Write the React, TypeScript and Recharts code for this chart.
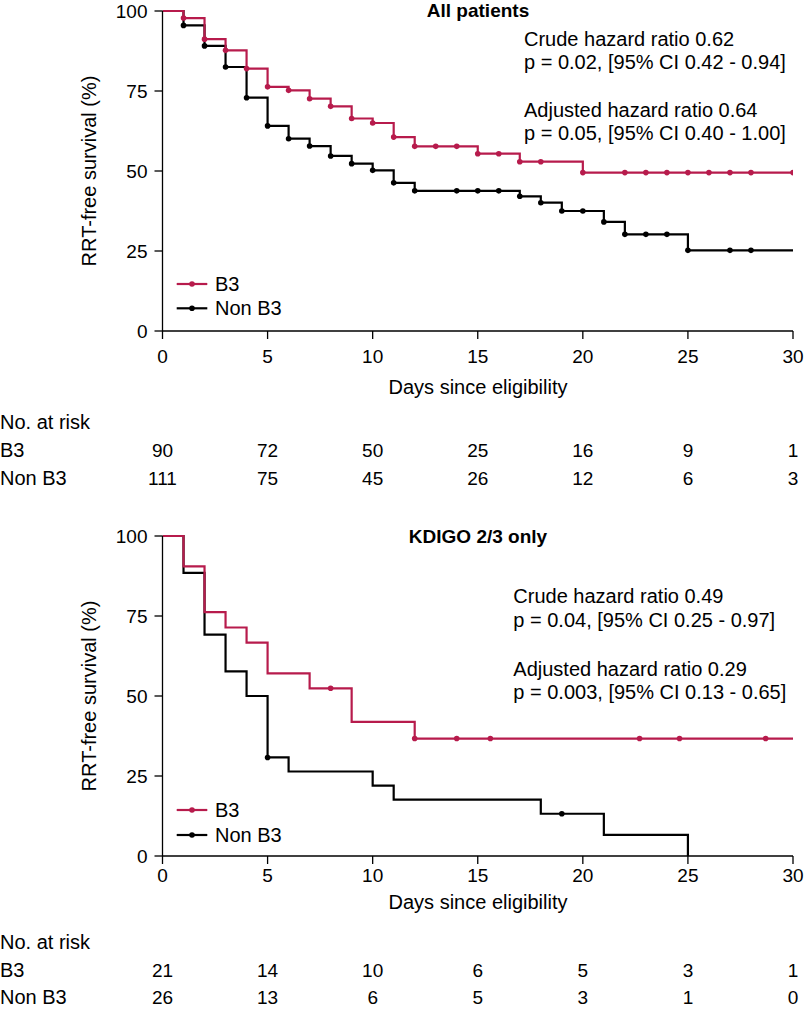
import React from 'react';
import { LineChart, Line, XAxis, YAxis, Legend } from 'recharts';

const FONT = '"Liberation Sans", Arial, Helvetica, sans-serif';
const RED = '#B71B4C';
const BLACK = '#000000';

const dayTicks = [0, 5, 10, 15, 20, 25, 30];
const survTicks = [0, 25, 50, 75, 100];
const groupNames = ['B3', 'Non B3'];

// ---- Panel 1: All patients ----
const allB3Days = [0, 1, 2, 3, 4, 5, 6, 7, 8, 9, 10, 11, 12, 13, 14, 15, 16, 17, 18, 20, 22, 23, 24, 25, 26, 27, 28, 30];
const allB3Surv = [100, 97.8, 91.2, 87.7, 82.0, 76.3, 75.2, 72.6, 70.2, 66.4, 65.0, 60.6, 57.7, 57.7, 57.7, 55.4, 55.4, 52.9, 52.9, 49.5, 49.5, 49.5, 49.5, 49.5, 49.5, 49.5, 49.5, 49.5];
const allB3Marks = [1, 2, 3, 4, 5, 6, 7, 8, 9, 10, 11, 12, 13, 14, 15, 16, 17, 18, 20, 22, 23, 24, 25, 26, 27, 28, 30];

const allNonDays = [0, 1, 2, 3, 4, 5, 6, 7, 8, 9, 10, 11, 12, 14, 15, 16, 17, 18, 19, 20, 21, 22, 23, 24, 25, 27, 28, 30];
const allNonSurv = [100, 95.5, 89.1, 82.5, 72.9, 64.1, 60.1, 57.8, 54.7, 52.3, 50.2, 46.3, 43.8, 43.8, 43.8, 43.8, 42.1, 40.1, 37.5, 37.5, 34.1, 30.2, 30.2, 30.2, 25.2, 25.2, 25.2, 25.2];
const allNonMarks = [1, 2, 3, 4, 5, 6, 7, 8, 9, 10, 11, 12, 14, 15, 16, 17, 18, 19, 20, 21, 22, 23, 24, 25, 27, 28];

const allRiskB3 = [90, 72, 50, 25, 16, 9, 1];
const allRiskNon = [111, 75, 45, 26, 12, 6, 3];

const allNotes = [
  'Crude hazard ratio 0.62',
  'p = 0.02, [95% CI 0.42 - 0.94]',
  'Adjusted hazard ratio 0.64',
  'p = 0.05, [95% CI 0.40 - 1.00]',
];

// ---- Panel 2: KDIGO 2/3 only ----
const kdB3Days = [0, 1, 2, 3, 4, 5, 7, 8, 9, 12, 14, 15.6, 22.7, 24.6, 28.7, 30];
const kdB3Surv = [100, 90.5, 76.2, 71.4, 66.7, 57.1, 52.4, 52.4, 41.9, 36.7, 36.7, 36.7, 36.7, 36.7, 36.7, 36.7];
const kdB3Marks = [8, 12, 14, 15.6, 22.7, 24.6, 28.7];

const kdNonDays = [0, 1, 2, 3, 4, 5, 6, 10, 11, 18, 19, 21, 25];
const kdNonSurv = [100, 88.5, 69.2, 57.7, 50.0, 30.8, 26.4, 22.0, 17.6, 13.2, 13.2, 6.6, 0];
const kdNonMarks = [5, 19];

const kdRiskB3 = [21, 14, 10, 6, 5, 3, 1];
const kdRiskNon = [26, 13, 6, 5, 3, 1, 0];

const kdNotes = [
  'Crude hazard ratio 0.49',
  'p = 0.04, [95% CI 0.25 - 0.97]',
  'Adjusted hazard ratio 0.29',
  'p = 0.003, [95% CI 0.13 - 0.65]',
];

type Pt = { t: number; s: number };
const toSeries = (days: number[], surv: number[]): Pt[] => days.map((t, i) => ({ t, s: surv[i] }));

const makeDot = (marks: number[], color: string) => (props: any) => {
  const { cx, cy, payload, index } = props;
  if (!payload || !marks.includes(payload.t) || cx == null || cy == null) {
    return <g key={`n-${index}`} />;
  }
  return <circle key={`d-${index}`} cx={cx} cy={cy} r={2.8} fill={color} stroke="none" />;
};

const PLOT_TOP = 11;
const PLOT_BOTTOM = 331;
const X_AXIS_H = 30;
const TICK_SIZE = 8;

type PanelCfg = {
  top: number;
  height: number;
  title: string;
  titleY: number;
  notes: string[];
  notesX: number;
  notesY: number[];
  b3Days: number[];
  b3Surv: number[];
  b3Marks: number[];
  nonDays: number[];
  nonSurv: number[];
  nonMarks: number[];
  riskB3: number[];
  riskNon: number[];
  tickDy: number;
  rowB3Dy: number;
  rowNonDy: number;
  daysY: number;
  riskHeadY: number;
  legendTop: number;
  legendGap: number;
};

const panels: PanelCfg[] = [
  {
    top: 0,
    height: 500,
    title: 'All patients',
    titleY: 17,
    notes: allNotes,
    notesX: 524,
    notesY: [45.5, 68.5, 117.3, 140.3],
    b3Days: allB3Days,
    b3Surv: allB3Surv,
    b3Marks: allB3Marks,
    nonDays: allNonDays,
    nonSurv: allNonSurv,
    nonMarks: allNonMarks,
    riskB3: allRiskB3,
    riskNon: allRiskNon,
    tickDy: 32.3,
    rowB3Dy: 125.8,
    rowNonDy: 154.1,
    daysY: 393.9,
    riskHeadY: 428.5,
    legendTop: 284,
    legendGap: 24.3,
  },
  {
    top: 525,
    height: 491,
    title: 'KDIGO 2/3 only',
    titleY: 17.7,
    notes: kdNotes,
    notesX: 513.3,
    notesY: [78.3, 101.7, 150.7, 174],
    b3Days: kdB3Days,
    b3Surv: kdB3Surv,
    b3Marks: kdB3Marks,
    nonDays: kdNonDays,
    nonSurv: kdNonSurv,
    nonMarks: kdNonMarks,
    riskB3: kdRiskB3,
    riskNon: kdRiskNon,
    tickDy: 26.3,
    rowB3Dy: 120.8,
    rowNonDy: 147.5,
    daysY: 383.9,
    riskHeadY: 423.7,
    legendTop: 285,
    legendGap: 25,
  },
];

const colorOf: Record<string, string> = { 'B3': RED, 'Non B3': BLACK };

const makeLegend = (gap: number) => (props: any) => {
  const payload: any[] = props.payload || [];
  const items = groupNames
    .map((n) => payload.find((p: any) => p.value === n) || { value: n, color: colorOf[n] })
    .map((p: any) => ({ name: p.value, color: colorOf[p.value] || p.color }));
  return (
    <svg width={160} height={70} style={{ display: 'block', overflow: 'visible' }}>
      {items.map((it, i) => {
        const y = 12 + i * gap;
        return (
          <g key={it.name}>
            <line x1={6.7} x2={37.3} y1={y} y2={y} stroke={it.color} strokeWidth={2.2} />
            <circle cx={22} cy={y} r={2.8} fill={it.color} />
            <text x={45} y={y + 7} fontSize={20} fontFamily={FONT} fill="#000">
              {it.name}
            </text>
          </g>
        );
      })}
    </svg>
  );
};

const makeXTick = (cfg: PanelCfg) => (props: any) => {
  const { x, y, payload } = props;
  const idx = dayTicks.indexOf(payload.value);
  const axisY = y - TICK_SIZE;
  return (
    <g>
      <text x={x} y={axisY + cfg.tickDy} textAnchor="middle" fontSize={19} fontFamily={FONT} fill="#000">
        {payload.value}
      </text>
      <text x={x} y={axisY + cfg.rowB3Dy} textAnchor="middle" fontSize={19} fontFamily={FONT} fill="#000">
        {cfg.riskB3[idx]}
      </text>
      <text x={x} y={axisY + cfg.rowNonDy} textAnchor="middle" fontSize={19} fontFamily={FONT} fill="#000">
        {cfg.riskNon[idx]}
      </text>
    </g>
  );
};

const Panel = ({ cfg }: { cfg: PanelCfg }) => {
  const b3 = toSeries(cfg.b3Days, cfg.b3Surv);
  const non = toSeries(cfg.nonDays, cfg.nonSurv);
  const plotCenterY = (PLOT_TOP + PLOT_BOTTOM) / 2;
  return (
    <div style={{ position: 'absolute', left: 0, top: cfg.top, width: 805, height: cfg.height }}>
      <LineChart
        width={805}
        height={cfg.height}
        margin={{ top: PLOT_TOP, right: 12, left: 102.5, bottom: cfg.height - PLOT_BOTTOM - X_AXIS_H }}
        style={{ fontFamily: FONT }}
      >
        <XAxis
          dataKey="t"
          type="number"
          domain={[0, 30]}
          ticks={dayTicks}
          interval={0}
          height={X_AXIS_H}
          tickSize={TICK_SIZE}
          tickMargin={0}
          axisLine={{ stroke: '#000', strokeWidth: 1.3 }}
          tickLine={{ stroke: '#000', strokeWidth: 1.3 }}
          tick={makeXTick(cfg)}
          allowDataOverflow
        />
        <YAxis
          type="number"
          domain={[0, 100]}
          ticks={survTicks}
          interval={0}
          width={60}
          tickSize={TICK_SIZE}
          tickMargin={7}
          axisLine={{ stroke: '#000', strokeWidth: 1.3 }}
          tickLine={{ stroke: '#000', strokeWidth: 1.3 }}
          tick={{ fontSize: 19, fill: '#000', fontFamily: FONT }}
        />
        <Legend
          layout="horizontal"
          verticalAlign="middle"
          align="center"
          content={makeLegend(cfg.legendGap)}
          wrapperStyle={{ left: 170, top: cfg.legendTop - 12, width: 160, height: 70 }}
        />
        <Line
          name="Non B3"
          data={non}
          dataKey="s"
          type="stepAfter"
          stroke={BLACK}
          strokeWidth={2.2}
          dot={makeDot(cfg.nonMarks, BLACK)}
          activeDot={false}
          isAnimationActive={false}
        />
        <Line
          name="B3"
          data={b3}
          dataKey="s"
          type="stepAfter"
          stroke={RED}
          strokeWidth={2.2}
          dot={makeDot(cfg.b3Marks, RED)}
          activeDot={false}
          isAnimationActive={false}
        />
      </LineChart>
      <svg
        width={805}
        height={cfg.height}
        style={{ position: 'absolute', left: 0, top: 0, pointerEvents: 'none', fontFamily: FONT }}
      >
        <text x={478} y={cfg.titleY} textAnchor="middle" fontSize={19} fontWeight="bold" fill="#000">
          {cfg.title}
        </text>
        {cfg.notes.map((n, i) => (
          <text key={i} x={cfg.notesX} y={cfg.notesY[i]} fontSize={20} fill="#000">
            {n}
          </text>
        ))}
        <text
          x={89}
          y={plotCenterY}
          fontSize={20}
          fill="#000"
          textAnchor="middle"
          dominantBaseline="central"
          transform={`rotate(-90 89 ${plotCenterY})`}
        >
          RRT-free survival (%)
        </text>
        <text x={478} y={cfg.daysY} textAnchor="middle" fontSize={20} fill="#000">
          Days since eligibility
        </text>
        <text x={0} y={cfg.riskHeadY} fontSize={20} fill="#000">
          No. at risk
        </text>
        <text x={0} y={PLOT_BOTTOM + cfg.rowB3Dy} fontSize={20} fill="#000">
          {groupNames[0]}
        </text>
        <text x={0} y={PLOT_BOTTOM + cfg.rowNonDy} fontSize={20} fill="#000">
          {groupNames[1]}
        </text>
      </svg>
    </div>
  );
};

export default function App() {
  return (
    <div style={{ position: 'absolute', left: 0, top: 0, width: 805, height: 1016, background: '#fff' }}>
      {panels.map((p, i) => (
        <Panel key={i} cfg={p} />
      ))}
    </div>
  );
}
